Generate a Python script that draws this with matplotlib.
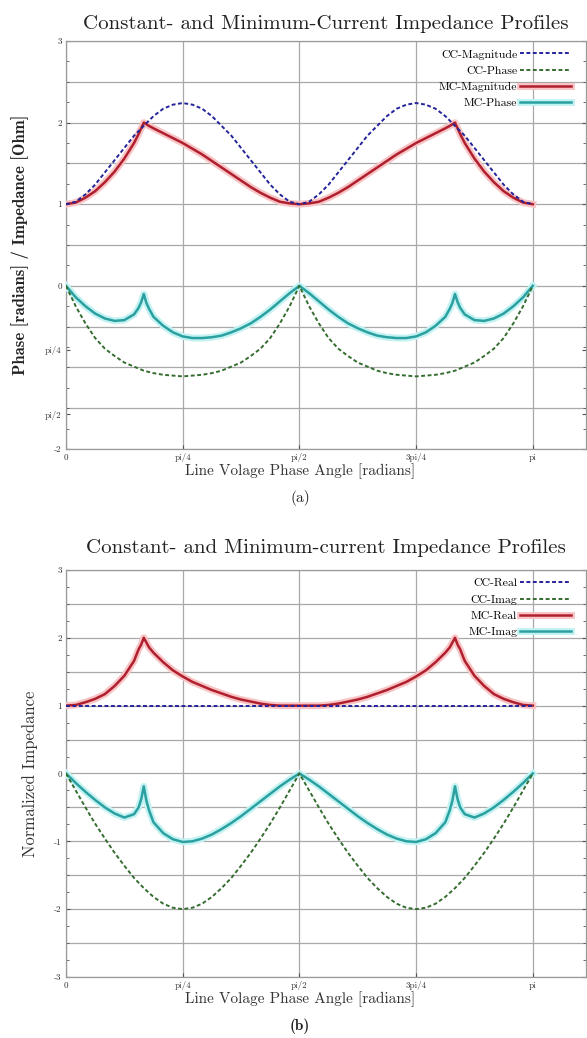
import numpy as np
import matplotlib
matplotlib.use("Agg")
import matplotlib.pyplot as plt
import matplotlib.patheffects as pe

plt.rcParams["font.family"] = ["cmr10", "DejaVu Serif"]
plt.rcParams["axes.unicode_minus"] = False
plt.rcParams["mathtext.fontset"] = "cm"

# sample angles in degrees (converted to radians when plotting)
angle_cc_deg = [0, 3.75, 7.5, 11.25, 15, 18.75, 22.5, 26.25, 30, 33.75, 37.5, 41.25, 45,
                48.75, 52.5, 56.25, 60, 63.75, 67.5, 71.25, 75, 78.75, 82.5, 86.25, 90,
                93.75, 97.5, 101.25, 105, 108.75, 112.5, 116.25, 120, 123.75, 127.5, 131.25, 135,
                138.75, 142.5, 146.25, 150, 153.75, 157.5, 161.25, 165, 168.75, 172.5, 176.25, 180]
angle_mc_deg = [0, 3.75, 7.5, 11.25, 15, 18.75, 22.5, 26.25, 28, 29, 30, 31, 32, 33.75, 37.5,
                41.25, 45, 48.75, 52.5, 56.25, 60, 63.75, 67.5, 71.25, 75, 78.75, 82.5, 86.25, 90,
                93.75, 97.5, 101.25, 105, 108.75, 112.5, 116.25, 120, 123.75, 127.5, 131.25, 135,
                138.75, 142.5, 146.25, 148, 149, 150, 151, 152, 153.75, 157.5, 161.25, 165,
                168.75, 172.5, 176.25, 180]
angle_real_deg = [0, 180]

# (a) magnitude / phase
cc_magnitude = [1.00, 1.03, 1.12, 1.24, 1.39, 1.54, 1.69, 1.84, 1.96, 2.08, 2.17, 2.22, 2.24,
                2.22, 2.17, 2.08, 1.96, 1.84, 1.69, 1.54, 1.39, 1.24, 1.12, 1.03, 1.00,
                1.03, 1.12, 1.24, 1.39, 1.54, 1.69, 1.84, 1.96, 2.08, 2.17, 2.22, 2.24,
                2.22, 2.17, 2.08, 1.96, 1.84, 1.69, 1.54, 1.39, 1.24, 1.12, 1.03, 1.00]
cc_phase = [0.00, -0.25, -0.46, -0.64, -0.77, -0.86, -0.94, -0.99, -1.04, -1.07, -1.09, -1.10, -1.11,
            -1.10, -1.09, -1.07, -1.04, -0.99, -0.94, -0.86, -0.77, -0.64, -0.46, -0.25, 0.00,
            -0.25, -0.46, -0.64, -0.77, -0.86, -0.94, -0.99, -1.04, -1.07, -1.09, -1.10, -1.11,
            -1.10, -1.09, -1.07, -1.04, -0.99, -0.94, -0.86, -0.77, -0.64, -0.46, -0.25, 0.00]
mc_magnitude = [1.00, 1.02, 1.08, 1.16, 1.27, 1.40, 1.56, 1.75, 1.86, 1.93, 2.00, 1.98, 1.96, 1.93,
                1.87, 1.81, 1.75, 1.68, 1.61, 1.53, 1.45, 1.37, 1.29, 1.21, 1.14, 1.08, 1.03, 1.01, 1.00,
                1.01, 1.03, 1.08, 1.14, 1.21, 1.29, 1.37, 1.45, 1.53, 1.61, 1.68, 1.75, 1.81, 1.87,
                1.93, 1.96, 1.98, 2.00, 1.93, 1.86, 1.75, 1.56, 1.40, 1.27, 1.16, 1.08, 1.02, 1.00]
mc_phase = [0.00, -0.14, -0.25, -0.34, -0.40, -0.43, -0.42, -0.35, -0.27, -0.20, -0.10, -0.21, -0.28,
            -0.38, -0.49, -0.57, -0.62, -0.64, -0.64, -0.63, -0.61, -0.57, -0.52, -0.46, -0.38, -0.29,
            -0.19, -0.09, 0.00,
            -0.09, -0.19, -0.29, -0.38, -0.46, -0.52, -0.57, -0.61, -0.63, -0.64, -0.64, -0.62, -0.57,
            -0.49, -0.38, -0.28, -0.21, -0.10, -0.20, -0.27, -0.35, -0.42, -0.43, -0.40, -0.34, -0.25,
            -0.14, 0.00]

# (b) real / imaginary
cc_real = [1.0, 1.0]
cc_imag = [0.00, -0.25, -0.50, -0.74, -0.96, -1.17, -1.36, -1.54, -1.69, -1.82, -1.92, -1.98, -2.00,
           -1.98, -1.92, -1.82, -1.69, -1.54, -1.36, -1.17, -0.96, -0.74, -0.50, -0.25, 0.00,
           -0.25, -0.50, -0.74, -0.96, -1.17, -1.36, -1.54, -1.69, -1.82, -1.92, -1.98, -2.00,
           -1.98, -1.92, -1.82, -1.69, -1.54, -1.36, -1.17, -0.96, -0.74, -0.50, -0.25, 0.00]
mc_real = [1.00, 1.01, 1.05, 1.10, 1.17, 1.29, 1.44, 1.66, 1.83, 1.90, 2.00, 1.93, 1.86, 1.78,
           1.64, 1.52, 1.43, 1.35, 1.29, 1.23, 1.18, 1.13, 1.09, 1.06, 1.03, 1.01, 1.00, 1.00, 1.00,
           1.00, 1.00, 1.01, 1.03, 1.06, 1.09, 1.13, 1.18, 1.23, 1.29, 1.35, 1.43, 1.52, 1.64,
           1.78, 1.86, 1.93, 2.00, 1.90, 1.83, 1.66, 1.44, 1.29, 1.17, 1.10, 1.05, 1.01, 1.00]
mc_imag = [0.00, -0.14, -0.27, -0.39, -0.50, -0.59, -0.65, -0.60, -0.50, -0.38, -0.19, -0.40, -0.54,
           -0.72, -0.88, -0.97, -1.01, -1.00, -0.96, -0.90, -0.82, -0.73, -0.63, -0.52, -0.41, -0.30,
           -0.19, -0.09, 0.00,
           -0.09, -0.19, -0.30, -0.41, -0.52, -0.63, -0.73, -0.82, -0.90, -0.96, -1.00, -1.01, -0.97,
           -0.88, -0.72, -0.54, -0.40, -0.19, -0.38, -0.50, -0.60, -0.65, -0.59, -0.50, -0.39, -0.27,
           -0.14, 0.00]

x_tick_pos = [0, np.pi / 4, np.pi / 2, 3 * np.pi / 4, np.pi]
x_tick_labels = ["0", "pi/4", "pi/2", "3pi/4", "pi"]
ya_tick_pos = [3, 2, 1, 0, -np.pi / 4, -np.pi / 2, -2]
ya_tick_labels = ["3", "2", "1", "0", "pi/4", "pi/2", "-2"]
yb_tick_pos = [3, 2, 1, 0, -1, -2, -3]
yb_tick_labels = ["3", "2", "1", "0", "-1", "-2", "-3"]

BLUE = "#24249a"
GREEN = "#356d30"
RED = "#b01f2e"
CYAN = "#2aa0a0"
GRID = "#a8a8a8"

red_fx = [pe.Stroke(linewidth=5.0, foreground="#f8c4c6"), pe.Normal()]
cyan_fx = [pe.Stroke(linewidth=5.0, foreground="#c4f2f2"), pe.Normal()]


def style_axes(ax, ylim, ytick_pos, ytick_labels, grid_step):
    ax.set_xlim(0, 3.5)
    ax.set_ylim(*ylim)
    ax.set_xticks(x_tick_pos)
    ax.set_xticklabels(x_tick_labels)
    ax.set_yticks(ytick_pos)
    ax.set_yticklabels(ytick_labels)
    ax.yaxis.set_minor_locator(matplotlib.ticker.MultipleLocator(grid_step / 2))
    ax.tick_params(axis="both", which="both", direction="in", labelsize=6.5,
                   colors="#555555", labelcolor="#333333", right=True, top=False)
    ax.tick_params(axis="both", which="major", length=3, pad=3)
    ax.tick_params(axis="y", which="minor", length=2)
    ax.grid(axis="x", color=GRID, linewidth=0.9)
    # horizontal grid every half unit
    for level in np.arange(ylim[0], ylim[1] + 1e-9, grid_step):
        ax.axhline(level, color=GRID, linewidth=0.9, zorder=0.5)
    for spine in ax.spines.values():
        spine.set_color("#9a9a9a")
        spine.set_linewidth(0.9)


def add_legend(ax):
    # gnuplot-style key: right-aligned text followed by the line sample
    ax.legend(loc="upper right", bbox_to_anchor=(0.987, 1.0), markerfirst=False, frameon=False,
              fontsize=8.5, handlelength=4.3, handletextpad=0.25, labelspacing=0.5, borderaxespad=0.3)


fig = plt.figure(figsize=(5.87, 10.38), dpi=100)
ax_a = fig.add_axes([0.1124, 0.5674, 0.886, 0.3931])
ax_b = fig.add_axes([0.1124, 0.0588, 0.886, 0.3921])

# (a)
ang_cc = np.deg2rad(angle_cc_deg)
ang_mc = np.deg2rad(angle_mc_deg)
ax_a.plot(ang_cc, cc_magnitude, color=BLUE, linewidth=1.4, dashes=(2.0, 1.3), label="CC-Magnitude", zorder=4)
ax_a.plot(ang_cc, cc_phase, color=GREEN, linewidth=1.4, dashes=(2.0, 1.3), label="CC-Phase", zorder=4)
ax_a.plot(ang_mc, mc_magnitude, color=RED, linewidth=1.8, label="MC-Magnitude", path_effects=red_fx, zorder=3)
ax_a.plot(ang_mc, mc_phase, color=CYAN, linewidth=1.8, label="MC-Phase", path_effects=cyan_fx, zorder=3)
style_axes(ax_a, (-2, 3), ya_tick_pos, ya_tick_labels, 0.5)
ax_a.set_title("Constant- and Minimum-Current Impedance Profiles", fontsize=15, pad=9, color="#222222")
ax_a.set_xlabel("Line Volage Phase Angle [radians]", fontsize=11, labelpad=3, color="#333333")
ax_a.xaxis.set_label_coords(0.45, -0.035)
ax_a.set_ylabel("Phase [radians] / Impedance [Ohm]", fontsize=12, family="cmb10", labelpad=12, color="#222222")
add_legend(ax_a)

# (b)
ax_b.plot(np.deg2rad(angle_real_deg), cc_real, color=BLUE, linewidth=1.4, dashes=(2.0, 1.3), label="CC-Real", zorder=4)
ax_b.plot(ang_cc, cc_imag, color=GREEN, linewidth=1.4, dashes=(2.0, 1.3), label="CC-Imag", zorder=4)
ax_b.plot(ang_mc, mc_real, color=RED, linewidth=1.8, label="MC-Real", path_effects=red_fx, zorder=3)
ax_b.plot(ang_mc, mc_imag, color=CYAN, linewidth=1.8, label="MC-Imag", path_effects=cyan_fx, zorder=3)
style_axes(ax_b, (-3, 3), yb_tick_pos, yb_tick_labels, 0.5)
ax_b.set_title("Constant- and Minimum-current Impedance Profiles", fontsize=15, pad=12, color="#222222")
ax_b.set_xlabel("Line Volage Phase Angle [radians]", fontsize=11, labelpad=3, color="#333333")
ax_b.xaxis.set_label_coords(0.45, -0.035)
ax_b.set_ylabel("Normalized Impedance", fontsize=12, labelpad=12, color="#333333")
add_legend(ax_b)

fig.text(0.511, 0.520, "(a)", ha="center", va="center", fontsize=11, color="#222222")
fig.text(0.511, 0.0116, "(b)", ha="center", va="center", fontsize=11, family="cmb10", color="#222222")

fig.savefig("out.png", dpi=100)
